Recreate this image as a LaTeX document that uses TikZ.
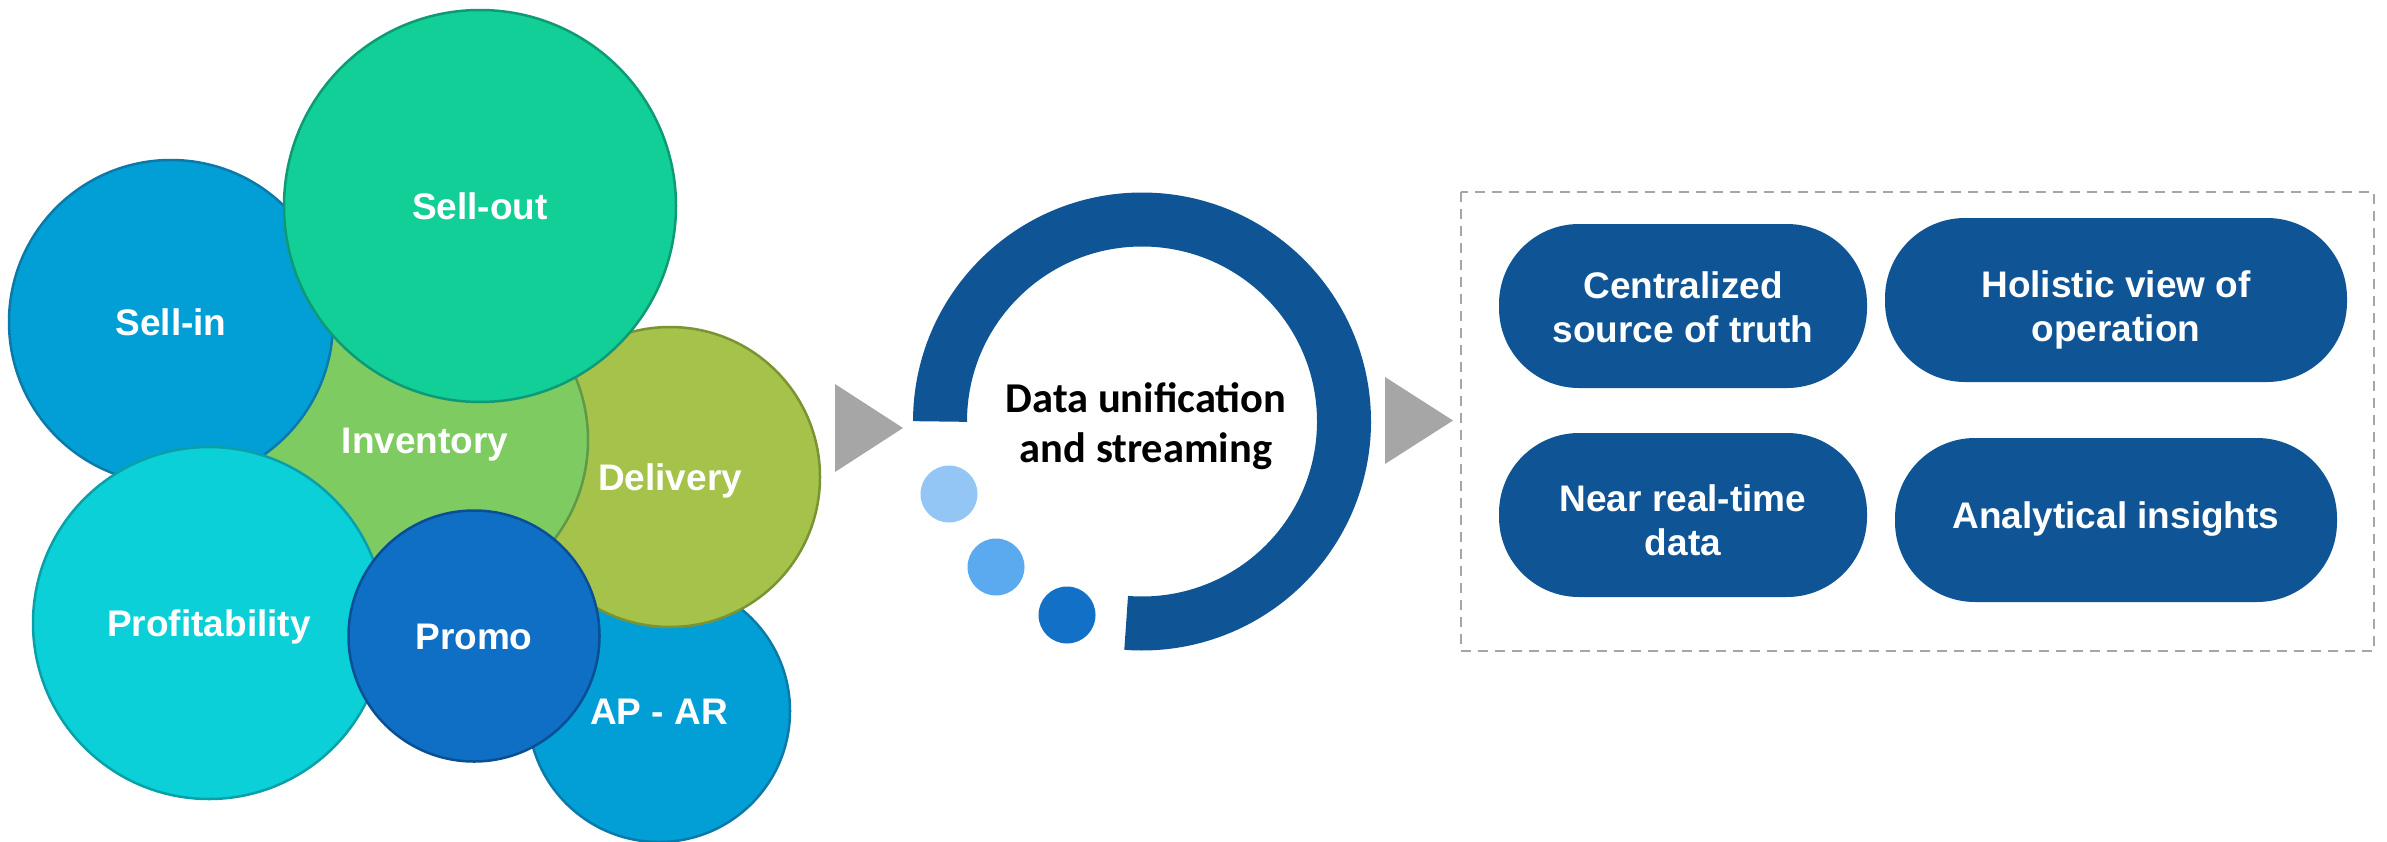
\documentclass[tikz,border=0pt]{standalone}
\usepackage{fontspec}
\setmainfont{Liberation Sans}
\newfontfamily\calfont{Carlito}
\definecolor{cSellIn}{HTML}{029FD7}
\definecolor{cSellInB}{HTML}{0B7AA8}
\definecolor{cSellOut}{HTML}{12CF98}
\definecolor{cSellOutB}{HTML}{0E9A74}
\definecolor{cInv}{HTML}{7ECB62}
\definecolor{cInvB}{HTML}{5E9A48}
\definecolor{cDel}{HTML}{A5C24A}
\definecolor{cDelB}{HTML}{7A9333}
\definecolor{cProf}{HTML}{0CD0D8}
\definecolor{cProfB}{HTML}{0AA0A8}
\definecolor{cPromo}{HTML}{0F6FC5}
\definecolor{cPromoB}{HTML}{0A4E93}
\definecolor{cDark}{HTML}{0F5494}
\definecolor{cDot1}{HTML}{94C6F5}
\definecolor{cDot2}{HTML}{5BAAF0}
\definecolor{cDot3}{HTML}{1270C6}
\definecolor{cGray}{HTML}{A6A6A6}
\newcommand\bubfont{\fontsize{37}{44}\selectfont\bfseries}
\newcommand\ringfont{\calfont\fontsize{42.5}{50}\selectfont\bfseries}
\begin{document}
\begin{tikzpicture}[x=1pt,y=-1pt,
  bubble/.style={circle, inner sep=0pt, line width=2.5pt, text=white, font=\bubfont, text height=26.5pt, text depth=0pt},
  pill/.style={rectangle, rounded corners=80pt, fill=cDark, minimum height=164pt, inner sep=0pt},
  pilltext/.style={text=white, font=\bubfont, align=center, inner sep=0pt},
  dotc/.style={circle, inner sep=0pt, minimum size=57pt},
  arrowtri/.style={fill=cGray}
]
\useasboundingbox (0,0) rectangle (2387,841);
% bubbles (back to front)
\node[bubble, fill=cSellIn, draw=cSellInB, minimum size=262pt] (apar) at (659,711) {AP - AR};
\node[bubble, fill=cDel, draw=cDelB, minimum size=300pt] (delivery) at (670,477) {Delivery};
\node[bubble, fill=cInv, draw=cInvB, minimum size=326pt] (inventory) at (425,440) {Inventory};
\node[bubble, fill=cSellIn, draw=cSellInB, minimum size=324pt] (sellin) at (171,322) {Sell-in};
\node[bubble, fill=cSellOut, draw=cSellOutB, minimum size=392pt] (sellout) at (480,206) {Sell-out};
\node[bubble, fill=cProf, draw=cProfB, minimum size=352pt] (profit) at (209,623) {Profitability};
\node[bubble, fill=cPromo, draw=cPromoB, minimum size=251pt] (promo) at (474,636) {Promo};
% arrows
\fill[arrowtri] (835,384) -- (835,472) -- (903,428) -- cycle;
\fill[arrowtri] (1385,377) -- (1385,464) -- (1453,420.5) -- cycle;
% ring
\coordinate (rc) at (1142,421.5);
\draw[cDark, line width=54pt] (rc) ++(-180:202) arc[start angle=-180, end angle=94.5, radius=202];
\node[font=\ringfont, align=center, text=black, inner sep=0pt] (ringtext) at (1146,426) {Data unification\\and streaming};
\node[dotc, fill=cDot1] (dot1) at (949,494) {};
\node[dotc, fill=cDot2] (dot2) at (996,567) {};
\node[dotc, fill=cDot3] (dot3) at (1067,615) {};
% outcomes box
\draw[cGray, line width=2.5pt, dash pattern=on 10pt off 7pt] (1461,192) rectangle (2374,651);
\node[pill, minimum width=368pt, label={[pilltext, yshift=-1.7pt]center:{Centralized\\source of truth}}] (p1) at (1683,306) {};
\node[pill, minimum width=462pt, label={[pilltext, yshift=-9.6pt]center:{Holistic view of\\operation}}] (p2) at (2116,300) {};
\node[pill, minimum width=368pt, label={[pilltext, yshift=-5.2pt]center:{Near real-time\\data}}] (p3) at (1683,515) {};
\node[pill, minimum width=442pt, label={[pilltext, yshift=1.3pt]center:{Analytical insights}}] (p4) at (2116,520) {};
\end{tikzpicture}
\end{document}
